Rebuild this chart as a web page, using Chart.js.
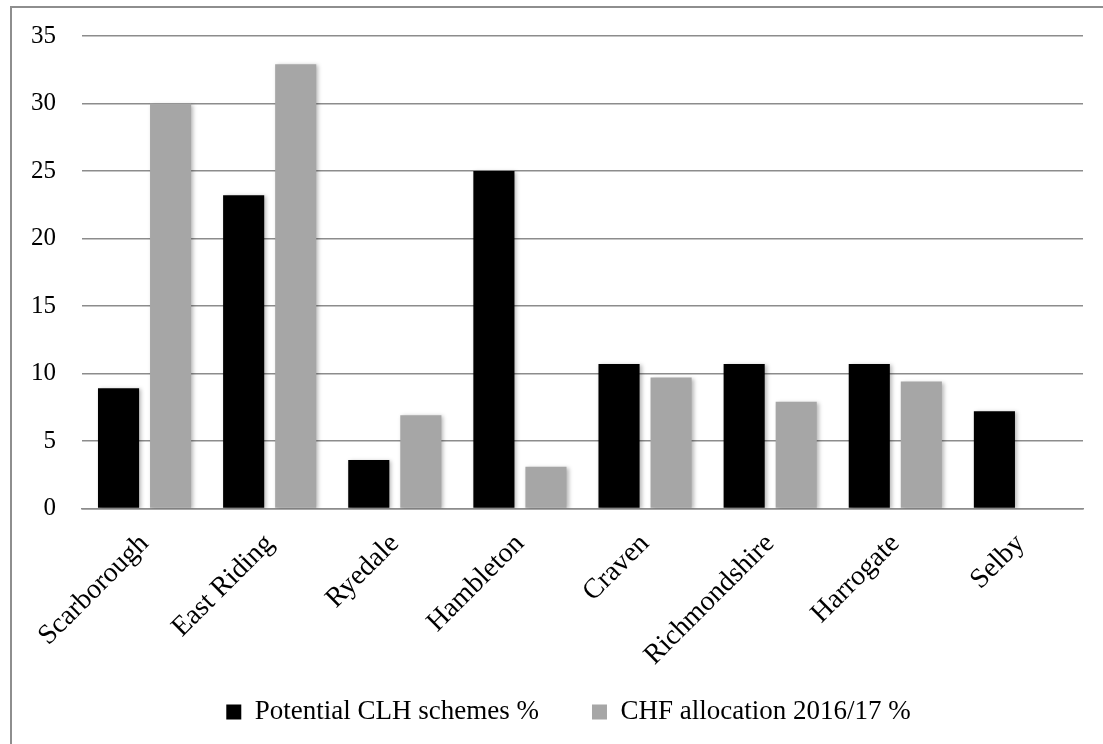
<!DOCTYPE html>
<html>
<head>
<meta charset="utf-8">
<title>Potential CLH schemes and CHF allocation by district</title>
<script src="https://cdn.jsdelivr.net/npm/chart.js@4/dist/chart.umd.min.js"></script>
<style>
  html, body { margin: 0; padding: 0; background: #fff; overflow: hidden; }
  #stage { position: relative; width: 1103px; height: 744px; overflow: hidden; }
  #frame { position: absolute; left: 10px; top: 6px; width: 1200px; height: 900px;
           border: 2px solid #8e8e8e; box-sizing: border-box; }
  #chart { position: absolute; left: 0; top: 0; }
</style>
</head>
<body>
<div id="stage">
  <div id="frame"></div>
  <canvas id="chart" width="1103" height="744"></canvas>
</div>
<script>
// Districts along the x axis
const districts = ['Scarborough', 'East Riding', 'Ryedale', 'Hambleton', 'Craven', 'Richmondshire', 'Harrogate', 'Selby'];

// Share of potential community-led housing schemes (%)
const clhSchemes = [8.9, 23.2, 3.6, 25.0, 10.7, 10.7, 10.7, 7.2];

// Community Housing Fund allocation 2016/17 (%)
const chfAllocation = [30.0, 32.9, 6.9, 3.1, 9.7, 7.9, 9.4, 0];

const seriesNames = ['Potential CLH schemes %', 'CHF allocation 2016/17 %'];
const yTicks = [0, 5, 10, 15, 20, 25, 30, 35];

Chart.defaults.font.family = "'Liberation Serif', 'Times New Roman', serif";
Chart.defaults.color = '#000';

// Soft drop shadow behind the bars
const barShadow = {
  id: 'barShadow',
  beforeDatasetsDraw(chart) {
    const c = chart.ctx;
    c.save();
    c.shadowColor = 'rgba(0,0,0,0.28)';
    c.shadowBlur = 4;
    c.shadowOffsetX = 2;
    c.shadowOffsetY = 1;
  },
  afterDatasetsDraw(chart) {
    chart.ctx.restore();
  }
};

// Let the long rotated district names run below the axis box,
// and nudge the legend row a little to the right
const layoutTweaks = {
  id: 'layoutTweaks',
  afterLayout(chart) {
    chart.scales.x.bottom = chart.height;
    chart.legend.left += 22;
    chart.legend.right += 22;
  }
};

new Chart(document.getElementById('chart'), {
  type: 'bar',
  data: {
    labels: districts,
    datasets: [
      { label: seriesNames[0], data: clhSchemes, backgroundColor: '#000000',
        categoryPercentage: 0.832, barPercentage: 0.79 },
      { label: seriesNames[1], data: chfAllocation, backgroundColor: '#a6a6a6',
        categoryPercentage: 0.832, barPercentage: 0.79 }
    ]
  },
  options: {
    responsive: false,
    devicePixelRatio: 1,
    animation: false,
    layout: { padding: { left: 10, right: 20, top: 36, bottom: 8.5 } },
    plugins: {
      tooltip: { enabled: false },
      legend: {
        position: 'bottom',
        labels: {
          boxWidth: 15,
          boxHeight: 15,
          padding: 53,
          font: { size: 27 },
          color: '#000'
        }
      }
    },
    scales: {
      x: {
        grid: { display: false, drawTicks: false },
        border: { display: true, color: '#8c8c8c', width: 1.5 },
        ticks: {
          minRotation: 45,
          maxRotation: 45,
          padding: 19,
          font: { size: 28 },
          color: '#000'
        },
        afterFit(scale) { scale.height = 137; }
      },
      y: {
        min: 0,
        max: 35,
        afterBuildTicks(scale) { scale.ticks = yTicks.map(v => ({ value: v })); },
        grid: { color: '#8c8c8c', lineWidth: 1.5, drawTicks: false },
        border: { display: false },
        ticks: { padding: 26, font: { size: 25 }, color: '#000' },
        afterFit(scale) {
          scale.width = 72;
          scale.paddingTop = 0;
          scale.paddingBottom = 0;
        }
      }
    }
  },
  plugins: [barShadow, layoutTweaks]
});
</script>
</body>
</html>
